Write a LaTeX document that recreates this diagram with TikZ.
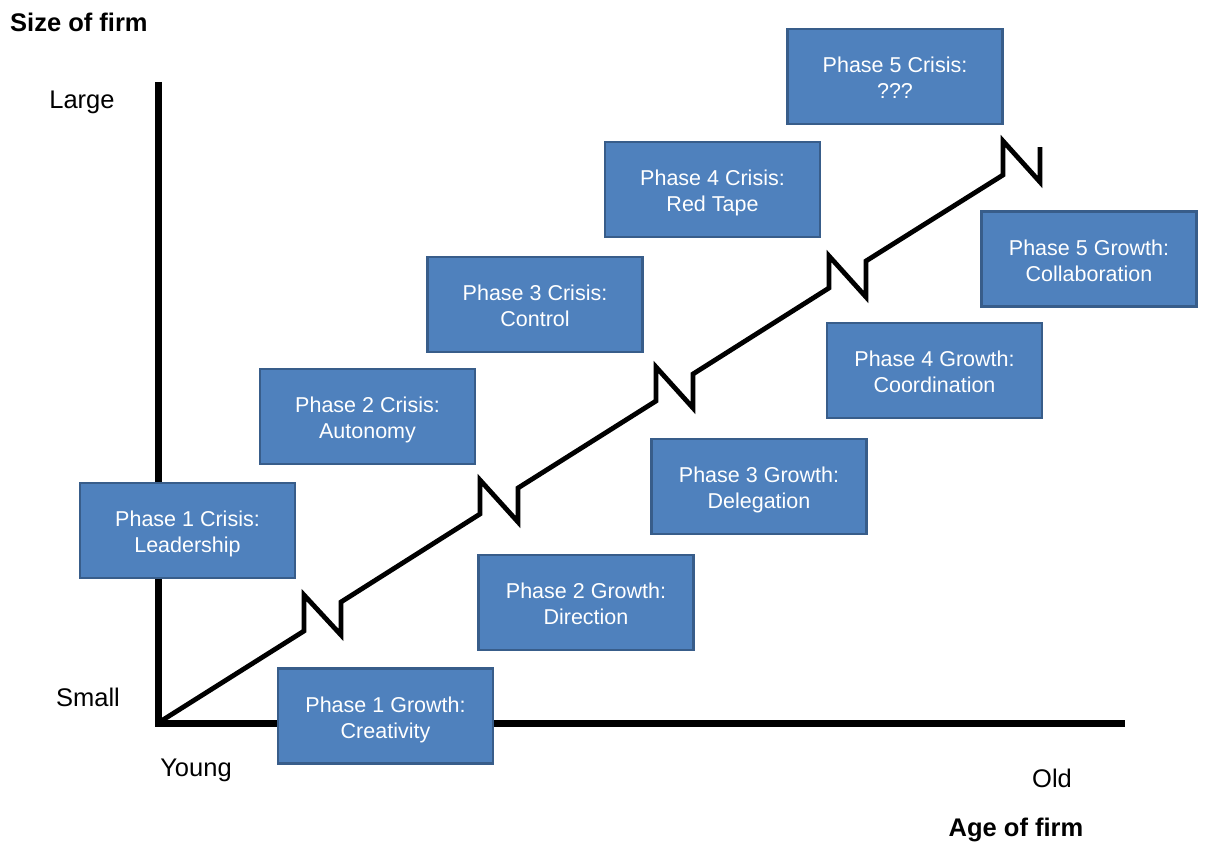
\documentclass[tikz,border=0pt]{standalone}
\usepackage{fontspec}
\setmainfont{Liberation Sans}
\begin{document}
\begin{tikzpicture}[x=1pt,y=-1pt,
  phasebox/.style={draw=boxedge, fill=boxfill, line width=2.5pt,
    minimum width=215pt, minimum height=95pt, inner sep=0pt,
    text=white, align=center,
    font=\fontsize{21.5}{26}\selectfont},
  axislabel/.style={font=\fontsize{25.5}{30}\selectfont, inner sep=0pt},
  axistitle/.style={font=\fontsize{25.5}{30}\selectfont\bfseries, inner sep=0pt},
  axisline/.style={line width=7pt},
  growthline/.style={line width=4.8pt, line join=miter}]
\definecolor{boxfill}{HTML}{4F81BD}
\definecolor{boxedge}{HTML}{385D8A}
% two centred lines, set a little below the middle of the box
\newcommand{\boxtext}[2]{\raisebox{-4pt}[\height][\depth]{\begin{tabular}{@{}c@{}}#1\\#2\end{tabular}}}
\useasboundingbox (0,0) rectangle (1205,843);

% axes
\coordinate (origin) at (158,723);
\coordinate (ytop) at (158,82);
\coordinate (xend) at (1125,723);
\draw[axisline] (ytop) -- (origin) -- (xend);

% growth path with a step at each crisis
\draw[growthline] (origin)
  -- (304,631) -- (304,595) -- (341,635) -- (341,602)
  -- (480,514) -- (480,480) -- (518,522) -- (518,488)
  -- (656,401) -- (656,367) -- (693,408) -- (693,374)
  -- (829,288) -- (829,256) -- (866,297) -- (866,261)
  -- (1003,175) -- (1003,141) -- (1040,182) -- (1040,147);

% phase boxes
\node[phasebox] (g1) at (385.5,716) {\boxtext{Phase 1 Growth:}{Creativity}};
\node[phasebox] (c1) at (187.5,530.5) {\boxtext{Phase 1 Crisis:}{Leadership}};
\node[phasebox] (g2) at (586,602.5) {\boxtext{Phase 2 Growth:}{Direction}};
\node[phasebox] (c2) at (367.5,416.5) {\boxtext{Phase 2 Crisis:}{Autonomy}};
\node[phasebox] (g3) at (759,486.5) {\boxtext{Phase 3 Growth:}{Delegation}};
\node[phasebox] (c3) at (535,304.5) {\boxtext{Phase 3 Crisis:}{Control}};
\node[phasebox] (g4) at (934.5,370.5) {\boxtext{Phase 4 Growth:}{Coordination}};
\node[phasebox] (c4) at (712.5,189.5) {\boxtext{Phase 4 Crisis:}{Red Tape}};
\node[phasebox] (g5) at (1089,259) {\boxtext{Phase 5 Growth:}{Collaboration}};
\node[phasebox] (c5) at (895,76.5) {\boxtext{Phase 5 Crisis:}{???}};

% axis labels
\node[axistitle, anchor=west] (ytitle) at (10,22) {Size of firm};
\node[axislabel] (large) at (82,102) {Large};
\node[axislabel] (small) at (88,697) {Small};
\node[axislabel] (young) at (196,770) {Young};
\node[axislabel] (old) at (1052,778) {Old};
\node[axistitle] (xtitle) at (1016,830) {Age of firm};
\end{tikzpicture}
\end{document}
